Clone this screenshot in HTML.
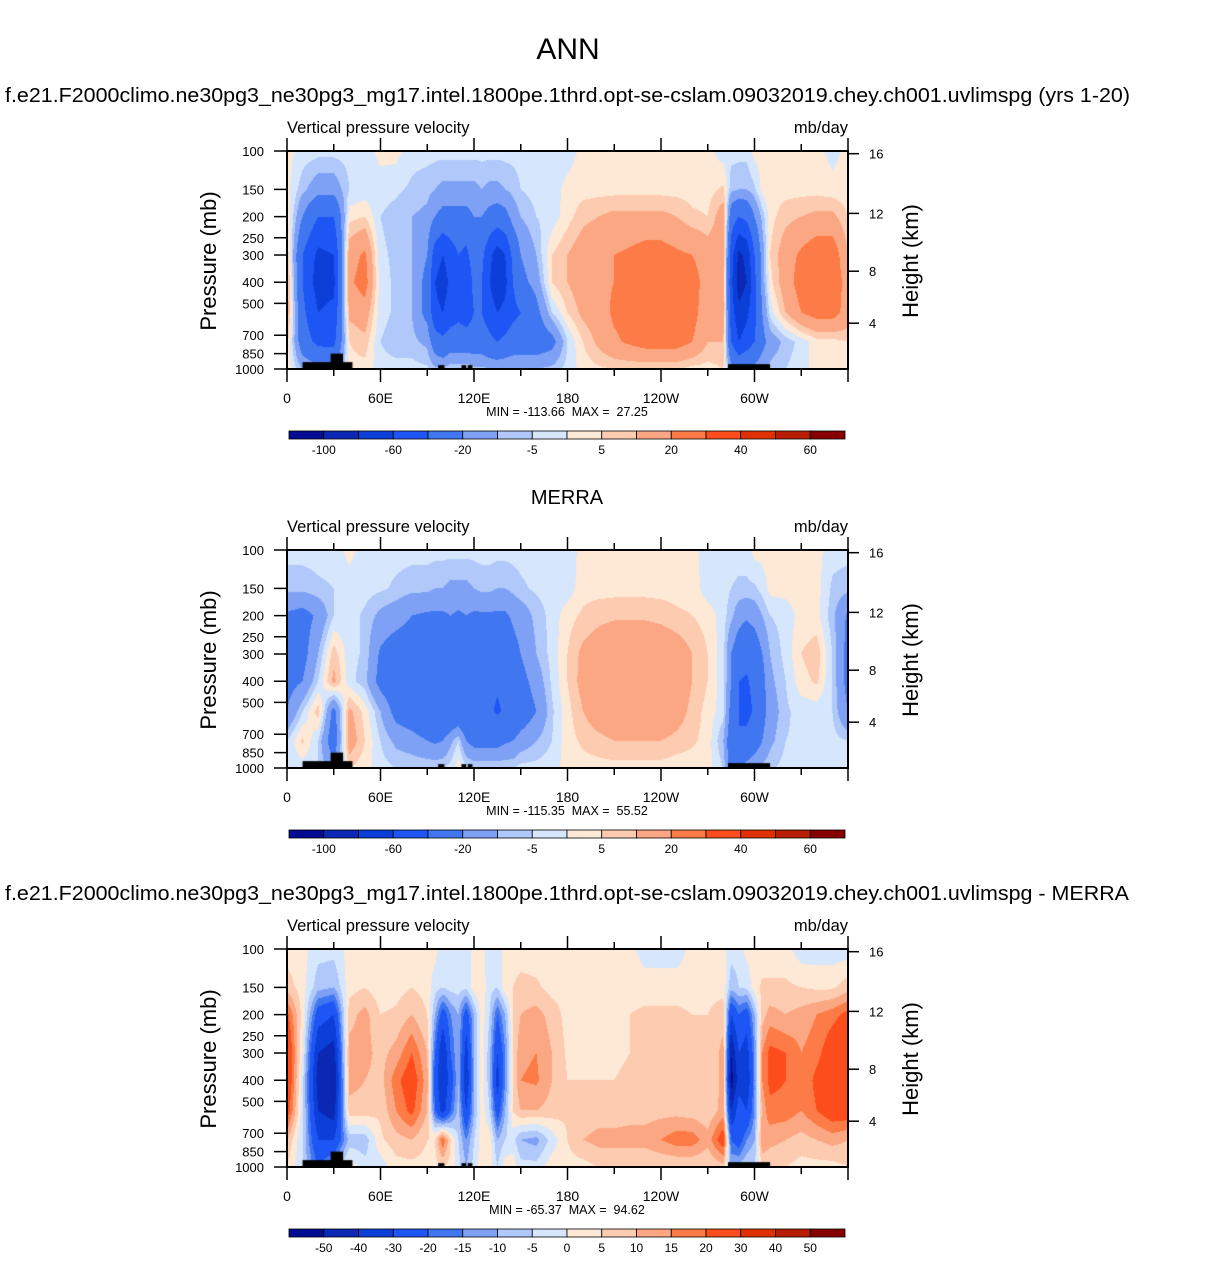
<!DOCTYPE html>
<html><head><meta charset="utf-8">
<style>
html,body{margin:0;padding:0;background:#fff;}
#root{position:relative;width:1206px;height:1281px;overflow:hidden;font-family:"Liberation Sans",Arial,sans-serif;}
canvas{position:absolute;}
svg{position:absolute;left:0;top:0;}
text{white-space:pre;}
</style></head>
<body>
<div id="root">
<canvas id="c0" width="561" height="218" style="left:287px;top:151px"></canvas>
<canvas id="c1" width="561" height="218" style="left:287px;top:550px"></canvas>
<canvas id="c2" width="561" height="218" style="left:287px;top:949px"></canvas>
<svg id="sv" width="1206" height="1281">
<text x="568" y="59" font-size="30" text-anchor="middle">ANN</text>
<text x="5" y="102" font-size="20" textLength="1125" lengthAdjust="spacingAndGlyphs">f.e21.F2000climo.ne30pg3_ne30pg3_mg17.intel.1800pe.1thrd.opt-se-cslam.09032019.chey.ch001.uvlimspg (yrs 1-20)</text>
<text x="567" y="504" font-size="20" text-anchor="middle">MERRA</text>
<text x="5" y="900" font-size="20" textLength="1124" lengthAdjust="spacingAndGlyphs">f.e21.F2000climo.ne30pg3_ne30pg3_mg17.intel.1800pe.1thrd.opt-se-cslam.09032019.chey.ch001.uvlimspg - MERRA</text>
</svg>
</div>
<script>
const P = [100,150,200,300,400,550,750,1000];
const lons = [0,10,20,30,40,50,60,70,80,90,95,100,105,110,115,120,125,130,135,140,145,150,160,170,180,190,200,210,220,230,240,250,260,270,280,285,290,295,300,305,310,320,330,340,350,360];
const model = [
[2,-2,-3,-3,-3,-3,2,2,-3,-3, -3,-3,-3,-3,-3,-3,-3,-3,-3,-3,-3,-3, -3,-3,-3,2,2,2,2,2,2,2,2,2,-3, -3,-3,-3,2,2,2, 2,2,2,-2,2],
[2,-8,-15,-15,-5,-3,-3,-4,-6,-8, -10,-12,-12,-12,-12,-12,-10,-12,-12,-10,-8,-5, -3,-3,2,3,3,3,3,3,3,3,3,3,6, -8,-10,-10,-6,2,3, 3,3,3,2,2],
[5,-20,-40,-40,3,5,-5,-7,-10,-12, -20,-25,-25,-25,-25,-20,-20,-25,-28,-25,-15,-10, -5,-3,3,8,10,12,12,12,12,10,6,5,15, -30,-40,-35,-20,-8,3, 8,10,12,12,5],
[10,-40,-65,-60,15,22,-4,-6,-10,-20, -50,-60,-50,-40,-45,-30,-35,-55,-70,-60,-35,-20, -10,5,10,15,18,20,22,25,25,22,20,15,15, -50,-85,-75,-40,-15,5, 15,22,28,28,10],
[15,-40,-70,-65,18,25,-3,-6,-10,-25, -60,-70,-55,-45,-55,-35,-40,-60,-75,-65,-40,-25, -15,5,10,15,18,20,25,28,28,28,25,15,15, -55,-90,-80,-45,-15,3, 15,25,28,28,15],
[15,-35,-60,-55,12,15,-3,-6,-10,-25, -55,-60,-50,-45,-50,-40,-40,-50,-60,-55,-45,-40, -25,-5,5,12,15,22,26,28,28,28,25,12,15, -50,-75,-65,-45,-20,-3, 10,20,25,25,15],
[8,-30,-45,-45,5,8,-5,-8,-8,-12, -30,-35,-30,-30,-30,-30,-30,-35,-40,-35,-30,-30, -30,-25,-5,5,12,18,22,25,25,25,20,10,10, -40,-60,-50,-40,-25,-15, -8,-3,3,3,5],
[3,-10,-15,-20,3,3,-3,-3,-3,-4, -8,-10,-5,-5,-5,-8,-8,-10,-10,-10,-10,-10, -10,-8,-3,2,4,5,5,5,5,5,3,3,5, -15,-20,-18,-15,-12,-8, -5,-2,2,2,3]
];
const merra = [
[-3,-3,-3,-3,2,-3,-3,-3,-3,-3, -3,-3,-3,-3,-3,-3,-3,-3,-3,-3,-3,-3, -3,-3,-3,2,2,2,2,2,2,2,2,-3,-3, -3,-3,-3,2,2,2, 2,2,2,-3,-3],
[-8,-8,-6,-5,-3,-3,-4,-6,-8,-8, -10,-10,-12,-12,-12,-10,-8,-8,-10,-10,-8,-6, -4,-3,-3,3,3,3,3,3,3,3,3,-3,-3, -5,-6,-6,-6,-3,2, 2,2,2,-6,-8],
[-22,-25,-18,-5,-3,-6,-12,-15,-20,-22, -22,-22,-20,-22,-20,-22,-22,-22,-22,-22,-18,-15, -8,-3,3,6,8,9,9,9,8,6,5,3,-3, -8,-15,-18,-15,-10,-5, -3,2,2,-8,-22],
[-25,-25,-10,8,-3,-6,-22,-28,-28,-30, -30,-30,-30,-30,-35,-30,-25,-30,-32,-30,-25,-20, -10,-3,5,12,15,17,17,17,17,15,10,5,-3, -20,-30,-35,-30,-20,-10, -3,5,8,-5,-25],
[-25,-20,-5,12,-3,-8,-25,-30,-32,-35, -35,-40,-35,-35,-40,-35,-30,-35,-38,-35,-30,-25, -15,-4,5,13,16,18,18,18,18,16,10,5,-3, -20,-40,-42,-35,-25,-12, -5,3,6,-5,-25],
[-20,-5,8,-25,12,3,-10,-25,-30,-35, -35,-40,-38,-35,-40,-35,-30,-38,-42,-38,-35,-30, -20,-6,3,10,15,17,18,18,17,14,8,3,-3, -25,-40,-45,-38,-25,-15, -6,-3,-3,-5,-20],
[-5,6,-5,-30,15,5,-5,-12,-15,-20, -22,-20,-12,-5,-20,-25,-25,-25,-25,-22,-20,-15, -10,-5,3,6,8,10,10,10,10,8,6,3,-10, -30,-40,-35,-28,-20,-12, -5,-4,-3,-3,-5],
[-3,-3,-5,-15,5,2,-3,-5,-5,-5, -5,-5,-3,3,-3,-5,-5,-5,-5,-5,-5,-3, -3,-2,2,3,3,3,3,3,3,2,2,2,-5, -30,-20,-15,-12,-8,-6, -3,-2,-2,-2,-3]
];
const diff = [
[2,2,-3,-3,2,2,2,2,2,2, 2,-3,-3,-3,-3,2,2,-3,-3,2,2,2, 2,2,2,2,2,2,2,-3,-3,-3,2,2,2, -3,-3,2,2,2,2, 2,-3,-3,-3,-3],
[8,2,-8,-10,3,5,2,3,5,3, -3,-5,-3,-3,-4,3,3,-3,-5,3,5,7, 6,3,3,3,3,3,3,3,3,3,3,3,3, -8,-5,-4,3,6,6, 6,5,4,4,8],
[22,3,-25,-30,8,12,5,6,10,5, -10,-25,-15,-10,-25,-10,3,-5,-20,-10,5,10, 12,8,3,3,3,4,5,6,6,6,5,5,8, -30,-20,-25,-10,8,12, 10,12,15,18,22],
[30,0,-40,-45,12,12,8,12,20,10, -20,-40,-20,-10,-35,-10,3,-8,-30,-15,5,14, 15,10,4,3,3,4,5,6,7,7,6,5,12, -50,-30,-35,-15,15,22, 20,15,18,25,30],
[30,-3,-45,-50,12,10,8,18,25,12, -25,-40,-25,-10,-40,-10,3,-8,-35,-15,5,15, 16,10,5,5,5,5,6,6,6,7,6,5,12, -55,-35,-40,-15,15,22, 20,15,22,28,30],
[25,-3,-40,-45,8,8,6,15,22,10, -20,-35,-20,-8,-30,-10,3,-5,-25,-10,5,10, 10,8,6,6,7,7,8,8,8,8,7,6,12, -40,-25,-30,-15,12,18, 18,15,20,25,25],
[10,-5,-30,-30,-8,-8,4,8,10,5, 5,20,5,-5,-15,-5,3,3,-10,-5,-3,-10, -12,-3,5,10,12,12,12,12,15,18,18,12,25, -20,-25,-15,-10,15,12, 10,8,10,12,10],
[5,-5,-20,-10,3,-3,-3,3,3,3, 3,5,3,-3,-10,-3,3,3,-5,3,3,-3, -3,3,3,3,5,5,5,5,5,5,5,5,8, -10,-8,-5,-5,5,5, 5,3,3,3,5]
];
const levelsAbs = [-100,-80,-60,-40,-20,-10,-5,0,5,10,20,30,40,50,60];
const labelsAbs = ["-100","-60","-20","-5","5","20","40","60"];
const levelsDiff = [-50,-40,-30,-20,-15,-10,-5,0,5,10,15,20,30,40,50];
const labelsDiff = ["-50","-40","-30","-20","-15","-10","-5","0","5","10","15","20","30","40","50"];
const minmax = ["MIN = -113.66  MAX =  27.25","MIN = -115.35  MAX =  55.52","MIN = -65.37  MAX =  94.62"];
const pTicks = [100,150,200,250,300,400,500,700,850,1000];
const hTicks = [16,12,8,4];
const lonTicks = [0,30,60,90,120,150,180,210,240,270,300,330,360];
const lonLabels = {0:"0",60:"60E",120:"120E",180:"180",240:"120W",300:"60W"};
const colors = ["#040c94","#0a28b4","#0b3fd8","#1e55f5","#4077f0","#7ea1f5","#b0c8fa","#d6e7fd","#fee8d6","#fdcbb0","#fca783","#fd7b46","#fd4d1c","#e03200","#b81e05","#860000"];

const W=561,H=218;
function xOf(lon){return lon/360*W;}
function yOf(p){return (Math.log10(p)-2)*H;}
function hexRGB(h){return [parseInt(h.substr(1,2),16),parseInt(h.substr(3,2),16),parseInt(h.substr(5,2),16)];}
const rgb = colors.map(hexRGB);
function colIdx(v,lv){let i=0;while(i<lv.length&&v>=lv[i])i++;return i;}
const logP = P.map(p=>Math.log10(p));

function drawField(id,data,lv){
  const cv=document.getElementById(id),ctx=cv.getContext('2d');
  const img=ctx.createImageData(W,H);
  for(let py=0;py<H;py++){
    const lp=2+(py+0.5)/H;
    let k=0;while(k<logP.length-2&&lp>logP[k+1])k++;
    let ty=(lp-logP[k])/(logP[k+1]-logP[k]);ty=Math.max(0,Math.min(1,ty));
    for(let px=0;px<W;px++){
      const lon=(px+0.5)/W*360;
      let j=0;while(j<lons.length-2&&lon>lons[j+1])j++;
      const tx=(lon-lons[j])/(lons[j+1]-lons[j]);
      const a=data[k][j]*(1-tx)+data[k][j+1]*tx;
      const b=data[k+1][j]*(1-tx)+data[k+1][j+1]*tx;
      const v=a*(1-ty)+b*ty;
      const c=rgb[colIdx(v,lv)];
      const o=(py*W+px)*4;
      img.data[o]=c[0];img.data[o+1]=c[1];img.data[o+2]=c[2];img.data[o+3]=255;
    }
  }
  ctx.putImageData(img,0,0);
  ctx.fillStyle="#000";
  const topo=[[10,42,930],[28,36,850],[97,101,960],[112,115,960],[116,119,960],[283,310,950]];
  topo.forEach(t=>{const x0=xOf(t[0]),x1=xOf(t[1]),y0=yOf(t[2]);ctx.fillRect(x0,y0,x1-x0,H-y0);});
}
drawField('c0',model,levelsAbs);
drawField('c1',merra,levelsAbs);
drawField('c2',diff,levelsDiff);

const NS="http://www.w3.org/2000/svg";
const sv=document.getElementById('sv');
function el(tag,attrs,parent){const e=document.createElementNS(NS,tag);for(const k in attrs)e.setAttribute(k,attrs[k]);(parent||sv).appendChild(e);return e;}
function hkm2p(z){ if(z<=11) return 1013.25*Math.pow(1-2.25577e-5*z*1000,5.25588); return 226.32*Math.exp(-(z-11)/6.3416);}

const tops=[151,550,949];
const panelNames=["model","merra","diff"];
tops.forEach((T,pi)=>{
  const L=287,R=848,B=T+H;
  const g=el('g',{});
  
  
  const fr=el('rect',{x:L,y:T,width:W,height:H,fill:'none',stroke:'#000','stroke-width':2},g);
  
  
  let t=el('text',{x:287,y:T-18,'font-size':16.5},g);t.textContent="Vertical pressure velocity";
  
  
  t=el('text',{x:848,y:T-18,'font-size':16.5,'text-anchor':'end'},g);t.textContent="mb/day";
  
  
  pTicks.forEach(p=>{
    const y=T+yOf(p);
    el('line',{x1:L-13,x2:L,y1:y,y2:y,stroke:'#000','stroke-width':1.5},g);
    const tx=el('text',{x:L-23,y:y+5,'font-size':13,'text-anchor':'end'},g);tx.textContent=p;
    
    
  });
  hTicks.forEach(h=>{
    const y=T+yOf(hkm2p(h));
    el('line',{x1:R,x2:R+11,y1:y,y2:y,stroke:'#000','stroke-width':1.5},g);
    const tx=el('text',{x:R+21,y:y+5,'font-size':13},g);tx.textContent=h;
    
    
  });
  lonTicks.forEach(lon=>{
    const x=L+xOf(lon);const major=lon%60===0;
    el('line',{x1:x,x2:x,y1:T,y2:T-(major?13:7),stroke:'#000','stroke-width':1.5},g);
    el('line',{x1:x,x2:x,y1:B,y2:B+(major?13:7),stroke:'#000','stroke-width':1.5},g);
    if(lonLabels[lon]!==undefined){
      const tx=el('text',{x:x,y:B+34,'font-size':14,'text-anchor':'middle'},g);tx.textContent=lonLabels[lon];
      
      
    }
  });
  t=el('text',{x:567,y:B+47,'font-size':12.5,'text-anchor':'middle'},g);t.textContent=minmax[pi];
  
  
  t=el('text',{x:0,y:0,'font-size':22,'text-anchor':'middle',transform:'translate(216,'+(T+110)+') rotate(-90)'},g);t.textContent="Pressure (mb)";
  
  
  t=el('text',{x:0,y:0,'font-size':22,'text-anchor':'middle',transform:'translate(918,'+(T+110)+') rotate(-90)'},g);t.textContent="Height (km)";
  
  
  const cy=B+62, cx0=289, bw=(845-289)/16;
  const cb=el('g',{},g);
  
  
  colors.forEach((c,i)=>{
    const r=el('rect',{x:cx0+i*bw,y:cy,width:bw,height:8,fill:c,stroke:'#000','stroke-width':0.8},cb);
    
    
  });
  const labs=pi===2?labelsDiff:labelsAbs;
  const step=pi===2?1:2;
  labs.forEach((lb,i)=>{
    const k=1+i*step;
    const tx=el('text',{x:cx0+k*bw,y:cy+23,'font-size':12,'text-anchor':'middle'},cb);tx.textContent=lb;
    
    
  });
});
</script>
</body></html>
